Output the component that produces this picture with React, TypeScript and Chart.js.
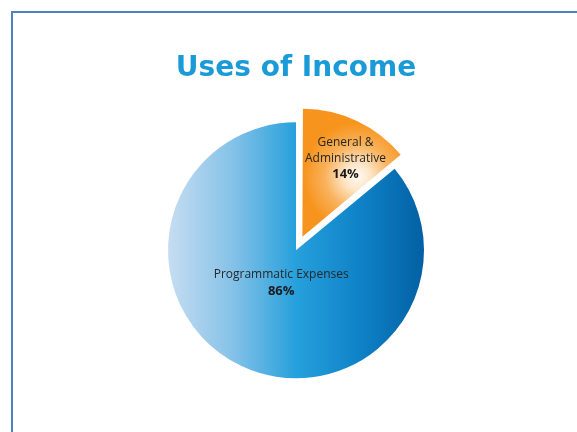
import React, { useEffect, useRef } from "react";
import { Chart, registerables } from "chart.js";

Chart.register(...registerables);

const TITLE = "Uses of Income";
const CATEGORIES = ["General & Administrative", "Programmatic Expenses"];
const LABEL_LINES = [["General &", "Administrative"], ["Programmatic Expenses"]];
const VALUES = [14, 86];
const PERCENT_LABELS = ["14%", "86%"];

const ORANGE = "#f7941d";
const BLUE_MID = "#239cd9";
const PIE_RADIUS = 128;

// Keep an exploded slice at the same radius as the rest (Chart.js grows it slightly).
const keepRadius = {
  id: "keepRadius",
  afterDatasetUpdate(chart: any) {
    const meta = chart.getDatasetMeta(0);
    meta.data.forEach((arc: any) => {
      const off = (arc.options.offset || 0) / 4;
      const circ = arc.circumference || 0;
      const fix = 1 - Math.sin(Math.min(Math.PI, circ));
      arc.outerRadius = arc.outerRadius - off * fix;
    });
  },
};

const sliceLabels = {
  id: "sliceLabels",
  afterDatasetsDraw(chart: any, _args: any, opts: any) {
    const meta = chart.getDatasetMeta(0);
    const ctx = chart.ctx;
    meta.data.forEach((arc: any, i: number) => {
      const { x, y, startAngle, endAngle } = arc.getProps(
        ["x", "y", "startAngle", "endAngle"],
        true
      );
      const off = (arc.options.offset || 0) / 4;
      const mid = (startAngle + endAngle) / 2;
      const d = off + opts.radial[i] * PIE_RADIUS;
      const px = x + Math.cos(mid) * d + opts.nudge[i][0];
      const py = y + Math.sin(mid) * d + opts.nudge[i][1];
      const lines = LABEL_LINES[i];
      const n = lines.length + 1;
      const lh = 16;
      const top = py - ((n - 1) * lh) / 2;
      ctx.save();
      ctx.textAlign = "center";
      ctx.textBaseline = "middle";
      ctx.fillStyle = "#262626";
      ctx.font = "12px 'Open Sans'";
      lines.forEach((l: string, k: number) => ctx.fillText(l, px, top + k * lh));
      ctx.font = "bold 13px 'Open Sans'";
      ctx.fillStyle = "#1a1a1a";
      ctx.fillText(PERCENT_LABELS[i], px, top + lines.length * lh);
      ctx.restore();
    });
  },
};

export default function App() {
  const ref = useRef<HTMLCanvasElement | null>(null);

  useEffect(() => {
    if (!ref.current) return;
    const chart = new Chart(ref.current, {
      type: "pie",
      data: {
        labels: CATEGORIES,
        datasets: [
          {
            data: VALUES,
            borderWidth: 0,
            offset: [60, 0],
            hoverOffset: 0,
            backgroundColor: (c: any) => {
              const area = c.chart.chartArea;
              if (!area) return c.dataIndex === 0 ? ORANGE : BLUE_MID;
              const ctx = c.chart.ctx;
              const cx = (area.left + area.right) / 2;
              const cy = (area.top + area.bottom) / 2;
              if (c.dataIndex === 0) {
                const gx = cx + 55;
                const gy = cy - 60;
                const g = ctx.createRadialGradient(gx, gy, 0, gx, gy, 54);
                g.addColorStop(0, "#fffaf2");
                g.addColorStop(0.25, "#fde5c6");
                g.addColorStop(0.6, "#f9b25c");
                g.addColorStop(1, ORANGE);
                return g;
              }
              const g = ctx.createLinearGradient(cx - PIE_RADIUS, 0, cx + PIE_RADIUS, 0);
              g.addColorStop(0, "#c6ddf1");
              g.addColorStop(0.25, "#86c2e8");
              g.addColorStop(0.5, "#26a0dc");
              g.addColorStop(0.75, "#0f82c7");
              g.addColorStop(1, "#0360a4");
              return g;
            },
          },
        ],
      },
      options: {
        responsive: false,
        animation: false,
        events: [],
        radius: PIE_RADIUS,
        layout: { padding: { left: 15, right: 0, top: 0, bottom: 41 } },
        plugins: {
          legend: { display: false },
          tooltip: { enabled: false },
          title: {
            display: true,
            text: TITLE,
            color: "#1a9bd7",
            font: { family: "'DejaVu Sans'", size: 28, weight: "bold", lineHeight: 1.2 },
            padding: { top: 52, bottom: 24 },
          },
          sliceLabels: {
            radial: [0.7, 0.29],
            nudge: [
              [5, 3],
              [1, -1],
            ],
          },
        } as any,
      },
      plugins: [keepRadius, sliceLabels],
    });
    return () => chart.destroy();
  }, []);

  return (
    <div
      style={{
        position: "fixed",
        left: 0,
        top: 0,
        width: 577,
        height: 432,
        overflow: "hidden",
        background: "#ffffff",
      }}
    >
      <div
        style={{
          position: "absolute",
          left: 11,
          top: 11,
          width: 620,
          height: 480,
          borderLeft: "2px solid #4f81bd",
          borderTop: "2px solid #4f81bd",
        }}
      />
      <canvas
        ref={ref}
        width={577}
        height={432}
        style={{ position: "absolute", left: 0, top: 0, width: 577, height: 432 }}
      />
    </div>
  );
}
